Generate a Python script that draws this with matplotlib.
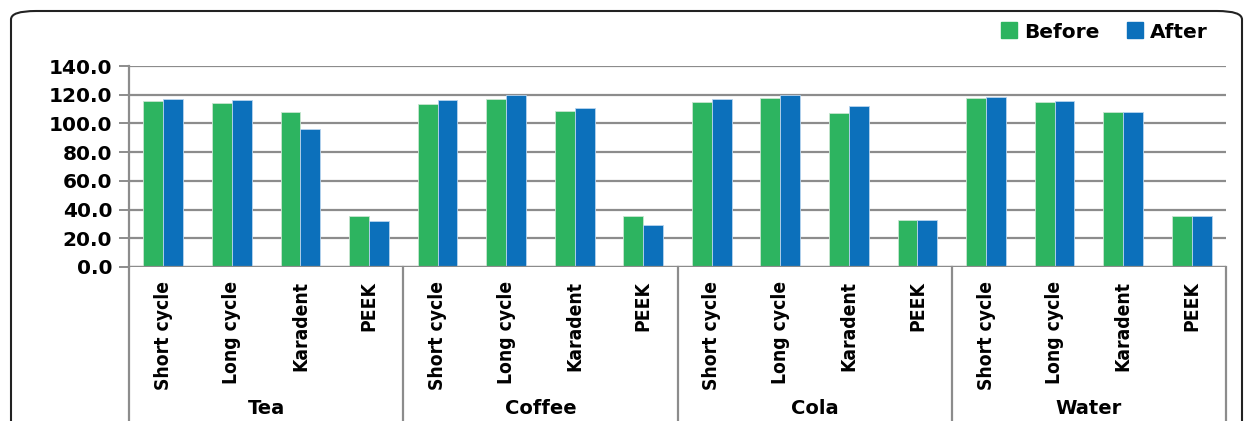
import matplotlib.pyplot as plt
import numpy as np
from matplotlib.patches import FancyBboxPatch
from matplotlib.lines import Line2D
from matplotlib.transforms import blended_transform_factory

groups = ['Tea', 'Coffee', 'Cola', 'Water']
materials = ['Short cycle', 'Long cycle', 'Karadent', 'PEEK']
before = [115.6, 114.2, 107.7, 35.8,
          113.5, 117.2, 108.4, 35.8,
          114.9, 117.4, 107.4, 32.8,
          117.9, 115.1, 107.9, 35.8]
after = [117.2, 116.5, 95.8, 32.1,
         116.5, 119.8, 110.9, 29.3,
         117.2, 120.0, 112.3, 32.8,
         118.4, 115.6, 107.9, 35.8]
yticks = [0, 20, 40, 60, 80, 100, 120, 140]

green = '#2db460'
blue = '#0c70bb'
grid = '#8c8c8c'

W, H = 1245, 421
fig = plt.figure(figsize=(W / 100, H / 100), dpi=100)
ax = fig.add_axes([129 / W, (H - 267) / H, (1226 - 129) / W, (267 - 66) / H])

x = np.arange(len(before))
bw = 0.29
ax.bar(x - bw / 2, before, bw, color=green, edgecolor='#c8e6d0', linewidth=0.6, zorder=3, label='Before')
ax.bar(x + bw / 2, after, bw, color=blue, edgecolor='#b8d4ee', linewidth=0.6, zorder=3, label='After')

ax.set_xlim(-0.5, len(before) - 0.5)
ax.set_ylim(0, 140)
ax.set_yticks(yticks)
ax.set_yticklabels([f'{v:.1f}' for v in yticks], fontsize=14.5, fontweight='bold', family='DejaVu Sans')
ax.yaxis.grid(True, color=grid, linewidth=1.6, zorder=0)
ax.tick_params(axis='y', length=7, width=1.4, color=grid, pad=5)
ax.set_xticks([])
for s in ['top', 'right', 'bottom']:
    ax.spines[s].set_visible(False)
ax.spines['left'].set_color(grid)
ax.spines['left'].set_linewidth(1.6)
ax.axhline(0, color=grid, linewidth=1.6, zorder=4)

tr = blended_transform_factory(ax.transData, ax.transAxes)
depth = -(H - 267 + 5) / (267 - 66)
for i in range(len(groups) + 1):
    ax.plot([i * 4 - 0.5, i * 4 - 0.5], [0, depth], transform=tr, color=grid,
            linewidth=1.6, clip_on=False)

lab_y = -(281 - 267) / (267 - 66)
for i in range(len(before)):
    ax.text(i, lab_y, materials[i % 4], transform=tr, rotation=90, ha='center', va='top',
            fontsize=13.8, fontweight='bold', fontstretch='condensed', family='DejaVu Sans')

grp_y = -(409 - 267) / (267 - 66)
for g, name in enumerate(groups):
    ax.text(g * 4 + 1.5, grp_y, name, transform=tr, ha='center', va='center',
            fontsize=14, fontweight='bold', family='DejaVu Sans')

handles = [Line2D([], [], marker='s', linestyle='none', markersize=11, color=green),
           Line2D([], [], marker='s', linestyle='none', markersize=11, color=blue)]
fig.legend(handles, ['Before', 'After'], loc='center right', bbox_to_anchor=(1226 / W, 1 - 32 / H),
           ncol=2, frameon=False, prop={'weight': 'bold', 'size': 14.5, 'family': 'DejaVu Sans'},
           handletextpad=0.3, columnspacing=1.3, handlelength=0.9)

frame = FancyBboxPatch((11 / W, -0.2), (1242 - 11) / W, 0.2 + (H - 11) / H,
                       boxstyle='round,pad=0,rounding_size=0.02', transform=fig.transFigure,
                       facecolor='none', edgecolor='#222222', linewidth=1.5)
fig.patches.append(frame)

fig.savefig('out.png', dpi=100)
